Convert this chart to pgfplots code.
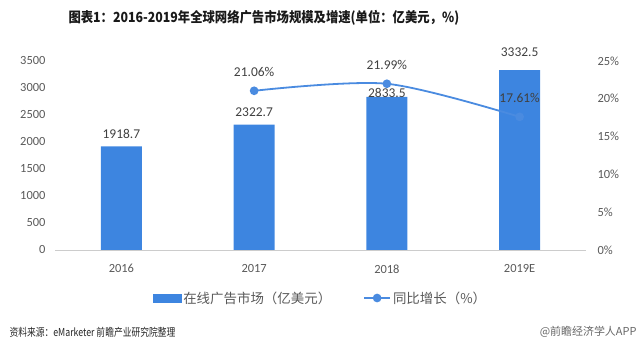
\documentclass[border=0pt]{standalone}
\usepackage{fontspec}
\setmainfont{Carlito}
\newfontfamily\cjk{Noto Sans CJK SC}
\usepackage{pgfplots}
\pgfplotsset{compat=1.18}
\definecolor{barblue}{HTML}{3D85E0}
\definecolor{lineblue}{HTML}{4A8BE0}
\definecolor{txt}{HTML}{595959}
\definecolor{dtxt}{HTML}{404040}
\begin{document}
\begin{tikzpicture}
\useasboundingbox (0bp,0bp) rectangle (640bp,354bp);
\begin{axis}[at={(55bp,104bp)}, anchor=south west, width=531bp, height=189bp, scale only axis,
  xmin=-0.5, xmax=3.5, ymin=0, ymax=3500,
  xtick={0,1,2,3}, xticklabels={2016,2017,2018,2019E},
  ytick={0,500,...,3500},
  axis x line*=bottom, axis y line*=left,
  y axis line style={draw=none}, x axis line style={draw=black!20, line width=0.8bp, -},
  major tick length=0pt,
  ticklabel style={font=\fontsize{12.5}{14}\selectfont, text=txt},
  /pgf/number format/assume math mode=true,
  /pgf/number format/1000 sep={},
  yticklabel style={xshift=-6bp},
  xticklabel style={yshift=-11bp},
  clip=false]
\addplot[ybar, bar width=41bp, fill=barblue, draw=none] coordinates {(0,1918.7)(1,2322.7)(2,2833.5)(3,3332.5)};
\node[font=\fontsize{13.5}{15}\selectfont, text=dtxt] at (axis cs:0,1918.7) [yshift=12bp] {1918.7};
\node[font=\fontsize{13.5}{15}\selectfont, text=dtxt] at (axis cs:1,2322.7) [yshift=12.5bp] {2322.7};
\node[font=\fontsize{13.5}{15}\selectfont, text=dtxt] at (axis cs:2,2833.5) [yshift=4bp] {2833.5};
\node[font=\fontsize{13.5}{15}\selectfont, text=dtxt] at (axis cs:3,3332.5) [yshift=17.5bp] {3332.5};
\end{axis}
\begin{axis}[at={(55bp,104bp)}, anchor=south west, width=531bp, height=189bp, scale only axis,
  xmin=-0.5, xmax=3.5, ymin=0, ymax=25,
  axis x line=none, axis y line*=right,
  y axis line style={draw=none},
  ytick={0,5,...,25},
  yticklabel={\pgfmathprintnumber{\tick}\%},
  major tick length=0pt,
  ticklabel style={font=\fontsize{12.5}{14}\selectfont, text=txt},
  /pgf/number format/assume math mode=true,
  yticklabel style={xshift=8bp},
  clip=false,
  legend style={at={(0.5,-0.254)}, anchor=center, draw=none, fill=none,
    legend columns=2, font=\cjk\fontsize{13.5}{15}\selectfont, text=txt,
    /tikz/every even column/.append style={column sep=30bp},
    legend cell align=left}]
\addlegendimage{legend image code/.code={\fill[barblue] (0bp,-4bp) rectangle (28bp,4bp);}}
\addlegendentry{在线广告市场（亿美元）}
\addplot[smooth, tension=0.5, color=lineblue, line width=1.8bp, mark=*, mark size=3.4bp,
  mark options={fill=lineblue, draw=lineblue},
  nodes near coords={\pgfmathprintnumber[fixed,precision=2,fixed zerofill]{\pgfplotspointmeta}\%},
  every node near coord/.append style={font=\fontsize{13.5}{15}\selectfont, text=dtxt, yshift=10bp},
  legend image code/.code={\draw[lineblue, line width=1.8bp] (0bp,0bp) -- (26bp,0bp); \fill[lineblue] (13bp,0bp) circle (3.4bp);}]
  coordinates {(1,21.06)(2,21.99)(3,17.61)};
\addlegendentry{同比增长（\%）}
\end{axis}
\node[anchor=west, font=\cjk\bfseries\fontsize{14}{16}\selectfont, text=black!90] at (65bp,336bp) {\scalebox{0.885}[1]{图表1：2016-2019年全球网络广告市场规模及增速(单位：亿美元，\%)}};
\node[anchor=west, font=\cjk\fontsize{11}{13}\selectfont, text=black!85] at (6bp,22bp) {\scalebox{0.8}[1]{资料来源：eMarketer 前瞻产业研究院整理}};
\node[anchor=east, font=\cjk\fontsize{11}{13}\selectfont, text=black!60] at (640bp,22bp) {@前瞻经济学人APP};
\end{tikzpicture}
\end{document}
